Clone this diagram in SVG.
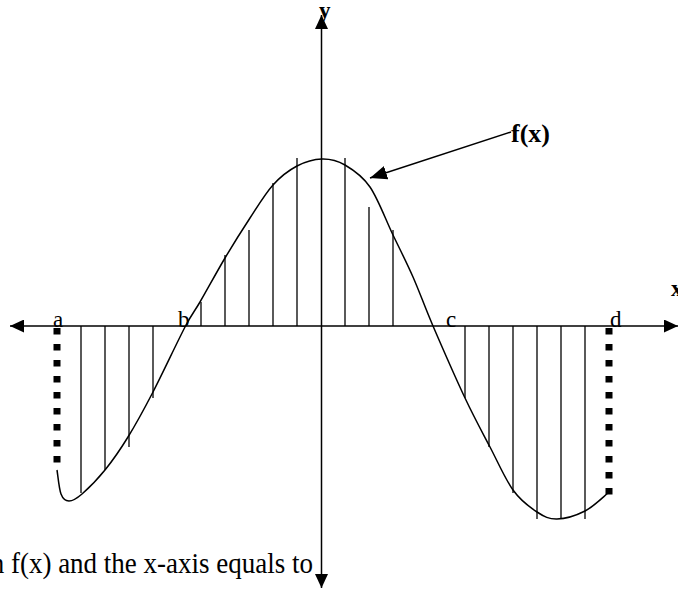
<svg xmlns="http://www.w3.org/2000/svg" width="678" height="590" viewBox="0 0 678 590">
<style>
  .ax { stroke: #000; stroke-width: 1.5; fill: none; }
  .curve { stroke: #000; stroke-width: 1.5; fill: none; }
  .hatch { stroke: #000; stroke-width: 1.3; }
  .dots { stroke: #000; stroke-width: 7; stroke-dasharray: 6.5 9.5; fill: none; }
  .lbl { font-family: "Liberation Serif", "Times New Roman", serif; font-size: 23px; fill: #000; }
  .bold { font-weight: bold; }
</style>
<defs>
  <marker id="ah" viewBox="0 0 14 13" refX="14" refY="6.5" markerWidth="14" markerHeight="13" markerUnits="userSpaceOnUse" orient="auto-start-reverse">
    <path d="M0,0 L14,6.5 L0,13 z" fill="#000"/>
  </marker>
  <marker id="ptr" viewBox="0 0 17 14" refX="17" refY="7" markerWidth="17" markerHeight="14" markerUnits="userSpaceOnUse" orient="auto">
    <path d="M0,0 L17,7 L0,14 z" fill="#000"/>
  </marker>
</defs>
<rect width="678" height="590" fill="#fff"/>

<g id="hatching">
  <line class="hatch" x1="81" y1="326" x2="81" y2="493"/>
  <line class="hatch" x1="105" y1="326" x2="105" y2="470"/>
  <line class="hatch" x1="129" y1="326" x2="129" y2="447"/>
  <line class="hatch" x1="153" y1="326" x2="153" y2="398"/>
  <line class="hatch" x1="201" y1="326" x2="201" y2="302"/>
  <line class="hatch" x1="225" y1="326" x2="225" y2="255"/>
  <line class="hatch" x1="249" y1="326" x2="249" y2="230"/>
  <line class="hatch" x1="273" y1="326" x2="273" y2="183"/>
  <line class="hatch" x1="297" y1="326" x2="297" y2="158"/>
  <line class="hatch" x1="345" y1="326" x2="345" y2="158"/>
  <line class="hatch" x1="369" y1="326" x2="369" y2="207"/>
  <line class="hatch" x1="393" y1="326" x2="393" y2="230"/>
  <line class="hatch" x1="465" y1="326" x2="465" y2="398"/>
  <line class="hatch" x1="489" y1="326" x2="489" y2="447"/>
  <line class="hatch" x1="513" y1="326" x2="513" y2="493"/>
  <line class="hatch" x1="537" y1="326" x2="537" y2="519"/>
  <line class="hatch" x1="561" y1="326" x2="561" y2="519"/>
  <line class="hatch" x1="585" y1="326" x2="585" y2="519"/>
</g>

<g id="bounds">
  <line class="dots" x1="57" y1="328" x2="57" y2="464"/>
  <line class="dots" x1="609" y1="328" x2="609" y2="496"/>
</g>

<g id="fx-curve">
  <path class="curve" d="M57,470 C57.7,474 59,488.8 61,494 C63,499.2 65.5,501 69,501 C72.5,501 76,499.2 82,494 C88,488.8 97.3,479.5 105,470 C112.7,460.5 120,450 128,437 C136,424 143.5,410.3 153,392 C162.5,373.7 177.2,342 185,327 C192.8,312 193.3,313.5 200,302 C206.7,290.5 216.7,272 225,258 C233.3,244 242,230.2 250,218 C258,205.8 265.2,193.7 273,185 C280.8,176.3 288.8,170.3 297,166 C305.2,161.7 314,159.2 322,159 C330,158.8 337,160.3 345,165 C353,169.7 362,175.3 370,187 C378,198.7 385.8,220 393,235 C400.2,250 406.3,261.8 413,277 C419.7,292.2 424.3,305.8 433,326 C441.7,346.2 455.5,377.8 465,398 C474.5,418.2 482,431.7 490,447 C498,462.3 505.2,479.2 513,490 C520.8,500.8 529.7,507.2 537,512 C544.3,516.8 549,519.2 557,519 C565,518.8 576.5,515.3 585,511 C593.5,506.7 604.2,496 608,493"/>
</g>

<g id="axes">
  <line id="x-axis" class="ax" x1="10" y1="326" x2="678" y2="326" marker-start="url(#ah)" marker-end="url(#ah)"/>
  <line id="y-axis" class="ax" x1="321.5" y1="15" x2="321.5" y2="588" marker-start="url(#ah)" marker-end="url(#ah)"/>
</g>

<g id="connectors">
  <line class="ax" x1="511" y1="132" x2="370" y2="178" marker-end="url(#ptr)"/>
</g>

<g id="labels">
  <text id="label-a" class="lbl" x="53" y="327">a</text>
  <text id="label-b" class="lbl" x="178" y="327">b</text>
  <text id="label-c" class="lbl" x="446" y="327">c</text>
  <text id="label-d" class="lbl" x="610" y="327">d</text>
  <text id="label-x" class="lbl bold" x="671" y="296">x</text>
  <text id="label-y" class="lbl bold" x="319" y="18">y</text>
  <text id="label-fx" class="lbl bold" x="511" y="142" style="font-size:26px">f(x)</text>
  <text id="caption" class="lbl" transform="translate(313,573) scale(1,1.1)" x="0" y="0" text-anchor="end" style="font-size:27px">n f(x) and the x-axis equals to</text>
</g>
</svg>
